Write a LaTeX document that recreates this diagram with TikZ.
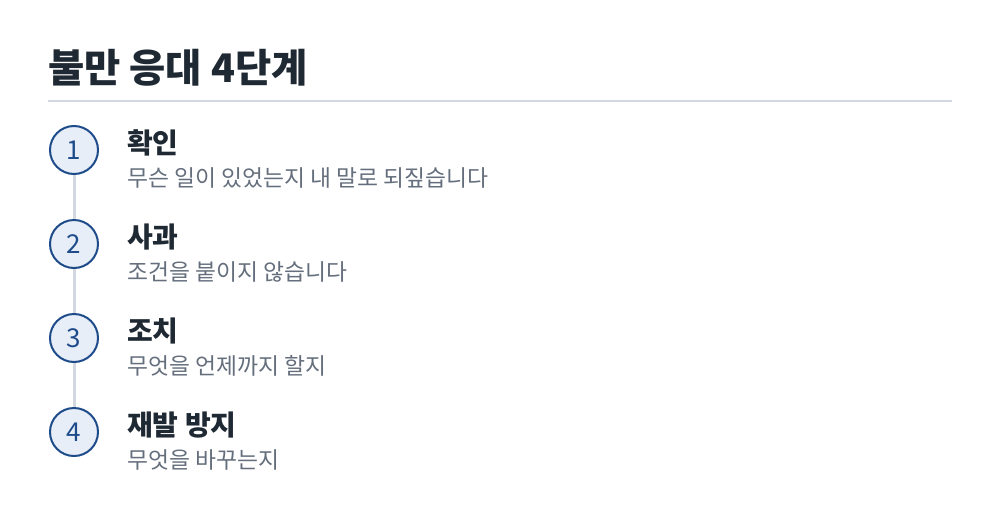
\documentclass[tikz,border=0pt]{standalone}
\usepackage{fontspec}
\setmainfont{Noto Sans CJK KR}
\usetikzlibrary{positioning,backgrounds}
\definecolor{ink}{HTML}{1F2933}
\definecolor{muted}{HTML}{646E7C}
\definecolor{railgray}{HTML}{D3D8E0}
\definecolor{navy}{HTML}{1E4B8A}
\definecolor{pale}{HTML}{E8EEF8}

\begin{document}
\begin{tikzpicture}[x=1pt,y=-1pt,
    num/.style={circle, draw=navy, line width=2pt, fill=pale, minimum size=48pt,
      inner sep=0pt, text=navy, font=\fontsize{26}{26}\selectfont},
    stepname/.style={anchor=base west, text=ink, font=\bfseries\fontsize{28}{28}\selectfont, inner sep=0pt},
    stepnote/.style={anchor=base west, text=muted, font=\fontsize{22.8}{22.8}\selectfont, inner sep=0pt},
    rail/.style={draw=railgray, line width=3pt}]
  \useasboundingbox (0,0) rectangle (1000,522);

  % heading
  \node[anchor=base west, inner sep=0pt, text=ink, font=\bfseries\fontsize{39.4}{39.4}\selectfont] (title) at (48,82) {불만 응대 4단계};
  \draw[railgray, line width=2pt] (48,101) -- (952,101);

  % steps
  \node[num] (n1) at (74,150) {1};
  \node[num, below=44pt of n1] (n2) {2};
  \node[num, below=44pt of n2] (n3) {3};
  \node[num, below=44pt of n3] (n4) {4};

  \node[stepname, right=28pt of n1, anchor=base west, yshift=-3pt] (t1) {확인};
  \node[stepname, right=28pt of n2, anchor=base west, yshift=-3pt] (t2) {사과};
  \node[stepname, right=28pt of n3, anchor=base west, yshift=-3pt] (t3) {조치};
  \node[stepname, right=28pt of n4, anchor=base west, yshift=-3pt] (t4) {재발 방지};

  \node[stepnote] (d1) at ([yshift=-33pt]t1.base west) {무슨 일이 있었는지 내 말로 되짚습니다};
  \node[stepnote] (d2) at ([yshift=-33pt]t2.base west) {조건을 붙이지 않습니다};
  \node[stepnote] (d3) at ([yshift=-33pt]t3.base west) {무엇을 언제까지 할지};
  \node[stepnote] (d4) at ([yshift=-33pt]t4.base west) {무엇을 바꾸는지};

  \begin{scope}[on background layer]
    \draw[rail] (n1) -- (n4);
  \end{scope}
\end{tikzpicture}
\end{document}
